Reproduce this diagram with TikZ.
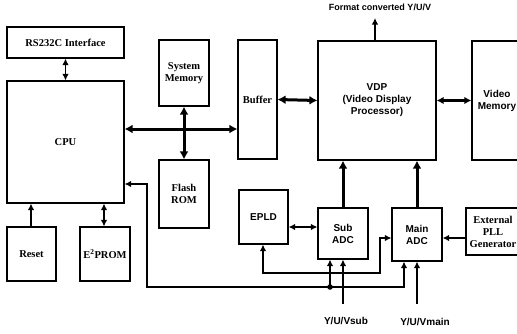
\documentclass[tikz,border=0pt]{standalone}
\usepackage{fontspec}
\setmainfont{Liberation Serif}
\setsansfont{Liberation Sans}
\usetikzlibrary{arrows.meta}
\begin{document}
\begin{tikzpicture}[x=1pt,y=-1pt,
  box/.style={draw, line width=1.2pt, inner sep=0pt, align=center},
  sf/.style={font=\sffamily\bfseries\fontsize{10}{12}\selectfont},
  rm/.style={font=\rmfamily\bfseries\fontsize{10.5}{12}\selectfont},
  ln/.style={line width=1.2pt},
  tk/.style={line width=3pt},
  arr/.style={ln,-{Latex[length=6.5pt,width=6.5pt]}},
  darr/.style={ln,{Latex[length=6.5pt,width=6.5pt]}-{Latex[length=6.5pt,width=6.5pt]}},
  tarr/.style={tk,-{Latex[length=8pt,width=9pt]}},
  tdarr/.style={tk,{Latex[length=8pt,width=9pt]}-{Latex[length=8pt,width=9pt]}}]
\useasboundingbox (0,0) rectangle (517,333);
\clip (0,0) rectangle (517,333);
% boxes
\node[box,rm,minimum width=117pt,minimum height=31pt] (rs) at (65.5,42.5) {RS232C Interface};
\node[box,rm,minimum width=117pt,minimum height=122pt] (cpu) at (65.5,142) {CPU};
\node[box,rm,minimum width=50pt,minimum height=66pt] (sysmem) at (184,73) {System\\Memory};
\node[box,rm,minimum width=50pt,minimum height=68pt] (flash) at (184,194) {Flash\\ROM};
\node[box,rm,minimum width=39pt,minimum height=119pt] (buffer) at (257.5,99.5) {Buffer};
\node[box,sf,minimum width=118pt,minimum height=119pt] (vdp) at (377,100.5) {VDP\\(Video Display\\Processor)};
\node[box,sf,minimum width=50pt,minimum height=119pt] (vmem) at (497,100.5) {Video\\Memory};
\node[box,rm,minimum width=49pt,minimum height=54pt] (reset) at (31.5,254) {Reset};
\node[box,rm,minimum width=50pt,minimum height=54pt] (eprom) at (105,254) {E\textsuperscript{2}PROM};
\node[box,sf,minimum width=49pt,minimum height=54pt] (epld) at (263.5,217) {EPLD};
\node[box,sf,minimum width=50pt,minimum height=51pt] (sub) at (343,233.5) {Sub\\ADC};
\node[box,sf,minimum width=50pt,minimum height=53pt] (main) at (417,234.5) {Main\\ADC};
\node[box,rm,minimum width=54pt,minimum height=47pt] (pll) at (493,231.5) {External\\PLL\\Generator};
% labels
\node[sf,font=\sffamily\bfseries\fontsize{9}{11}\selectfont] (fmt) at (380,7) {Format converted Y/U/V};
\node[sf] (ysub) at (346,321) {Y/U/Vsub};
\node[sf] (ymain) at (425,322) {Y/U/Vmain};
% coordinates
\coordinate (bus) at (184,129);
\coordinate (c1) at (147,184);
\coordinate (c2) at (147,287);
\coordinate (j) at (330,287);
\coordinate (m1) at (404,287);
\coordinate (e1) at (263,273);
\coordinate (e2) at (380,273);
\coordinate (e3) at (380,238);
\coordinate (s1) at (343,304);
\coordinate (s2) at (417,304);
\coordinate (fm) at (375,18);
% connectors
\draw[darr] (rs.south) -- (cpu.north);
\draw[tdarr] (cpu.east |- bus) -- (buffer.west |- bus);
\draw[tdarr] (sysmem.south) -- (flash.north);
\draw[tdarr] (buffer.east) -- (vdp.west);
\draw[line width=2.2pt,{Latex[length=7pt,width=7.5pt]}-{Latex[length=7pt,width=7.5pt]}] (vdp.east) -- (vmem.west);
\draw[arr] (vdp.north -| fm) -- (fm);
\draw[arr] (reset.north -| 31,0) -- (cpu.south -| 31,0);
\draw[darr] (eprom.north -| 104,0) -- (cpu.south -| 104,0);
\draw[darr] (cpu.east |- c1) -- (c1) -- (c2) -- (m1) -- (main.south -| m1);
\draw[arr] (j) -- (sub.south -| j);
\fill (j) circle (2.8pt);
\draw[darr] (epld.south -| e1) -- (e1) -- (e2) -- (e3) -- (main.west |- e3);
\draw[darr] (epld.east |- 0,227) -- (sub.west |- 0,227);
\draw[arr] (pll.west |- e3) -- (main.east |- e3);
\draw[arr] (s1) -- (sub.south -| s1);
\draw[arr] (s2) -- (main.south -| s2);
\draw[tarr] (sub.north) -- (vdp.south -| sub.north);
\draw[tarr] (main.north) -- (vdp.south -| main.north);
\end{tikzpicture}
\end{document}
